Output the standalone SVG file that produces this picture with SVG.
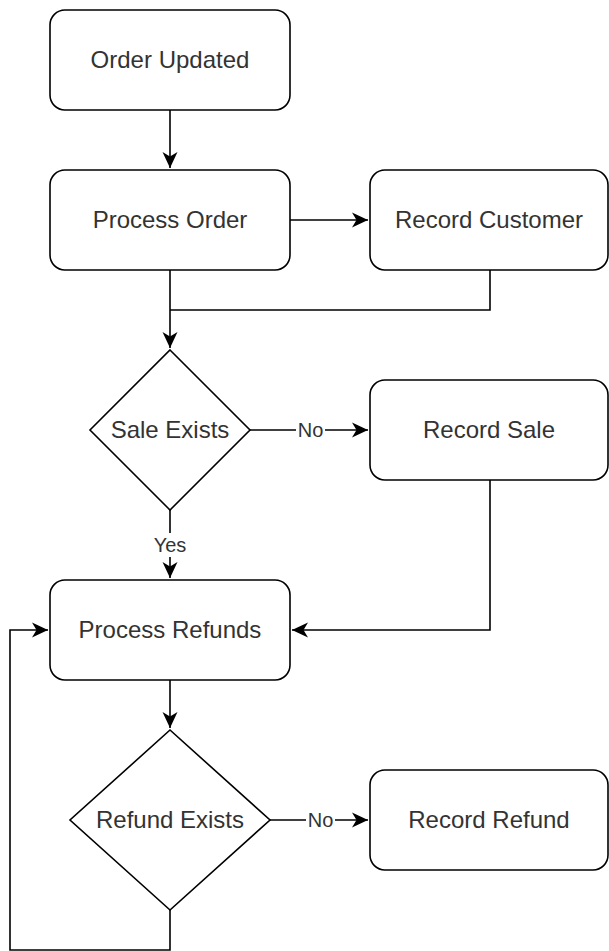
<svg xmlns="http://www.w3.org/2000/svg" width="609" height="951" viewBox="0 0 609 951">
<style>
.n{fill:#fff;stroke:#000;stroke-width:1.6}
.t{font-family:"Liberation Sans",Arial,sans-serif;font-size:24px;fill:#333;text-anchor:middle}
.l{font-family:"Liberation Sans",Arial,sans-serif;font-size:20px;fill:#333;text-anchor:middle}
.c{fill:none;stroke:#000;stroke-width:1.6}
</style>
<defs>
<marker id="arr" markerUnits="userSpaceOnUse" markerWidth="20" markerHeight="20" viewBox="-18 -10 20 20" refX="0" refY="0" orient="auto">
<path d="M0,0 L-16,-7.5 L-11.5,0 L-16,7.5 Z" fill="#000"/>
</marker>
</defs>
<rect width="609" height="951" fill="#fff"/>
<g id="connectors">
<path class="c" d="M170,110 V168" marker-end="url(#arr)"/>
<path class="c" d="M290,220 H368" marker-end="url(#arr)"/>
<path class="c" d="M170,270 V348" marker-end="url(#arr)"/>
<path class="c" d="M490,270 V310 H170"/>
<path class="c" d="M250,430 H368" marker-end="url(#arr)"/>
<path class="c" d="M170,510 V578" marker-end="url(#arr)"/>
<path class="c" d="M490,480 V630 H292" marker-end="url(#arr)"/>
<path class="c" d="M170,680 V728" marker-end="url(#arr)"/>
<path class="c" d="M270,820 H368" marker-end="url(#arr)"/>
<path class="c" d="M170,910 V950 H10 V630 H48" marker-end="url(#arr)"/>
<g id="label-no1"><rect x="296" y="418" width="29" height="24" fill="#fff"/><text class="l" x="310.5" y="437">No</text></g>
<g id="label-yes"><rect x="152" y="533" width="36" height="24" fill="#fff"/><text class="l" x="170" y="552">Yes</text></g>
<g id="label-no2"><rect x="306" y="808" width="29" height="24" fill="#fff"/><text class="l" x="320.5" y="827">No</text></g>
</g>
<g id="order-updated"><rect class="n" x="50" y="10" width="240" height="100" rx="15"/><text class="t" x="170" y="68">Order Updated</text></g>
<g id="process-order"><rect class="n" x="50" y="170" width="240" height="100" rx="15"/><text class="t" x="170" y="228">Process Order</text></g>
<g id="record-customer"><rect class="n" x="370" y="170" width="238" height="100" rx="15"/><text class="t" x="489" y="228">Record Customer</text></g>
<g id="sale-exists"><polygon class="n" points="170,350 250,430 170,510 90,430"/><text class="t" x="170" y="438">Sale Exists</text></g>
<g id="record-sale"><rect class="n" x="370" y="380" width="238" height="100" rx="15"/><text class="t" x="489" y="438">Record Sale</text></g>
<g id="process-refunds"><rect class="n" x="50" y="580" width="240" height="100" rx="15"/><text class="t" x="170" y="638">Process Refunds</text></g>
<g id="refund-exists"><polygon class="n" points="170,730 270,820 170,910 70,820"/><text class="t" x="170" y="828">Refund Exists</text></g>
<g id="record-refund"><rect class="n" x="370" y="770" width="238" height="100" rx="15"/><text class="t" x="489" y="828">Record Refund</text></g>
</svg>
